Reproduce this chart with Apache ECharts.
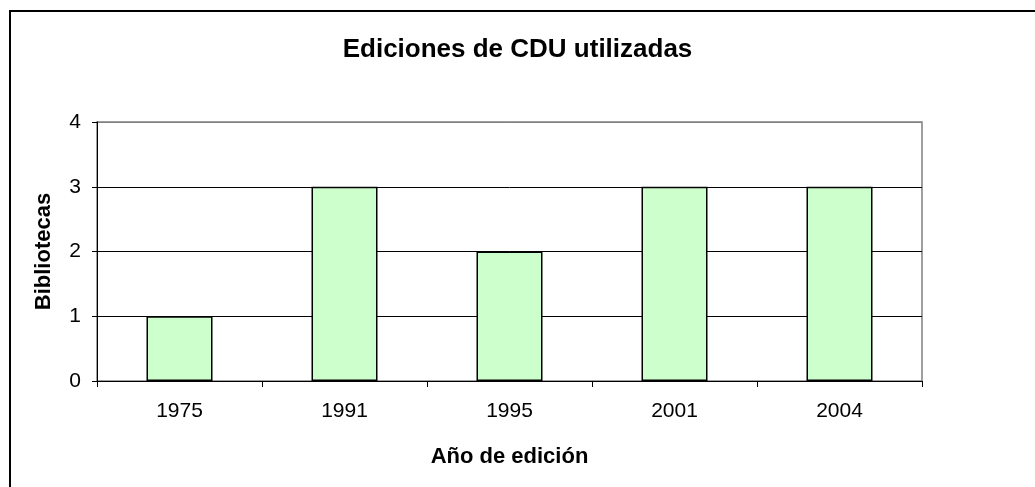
<!DOCTYPE html>
<html>
<head>
<meta charset="utf-8">
<script src="https://cdn.jsdelivr.net/npm/echarts@6/dist/echarts.min.js"></script>
<style>
  html, body { margin: 0; padding: 0; background: #fff; }
  #chart { width: 1035px; height: 487px; }
</style>
</head>
<body>
<div id="chart"></div>
<script>
// datos
var anios = ['1975', '1991', '1995', '2001', '2004'];
var bibliotecas = [1, 3, 2, 3, 3];

var myChart = echarts.init(document.getElementById('chart'));
var option = {
    animation: false,
    backgroundColor: '#fff',
    textStyle: { fontFamily: 'Liberation Sans, Arial, sans-serif' },
    graphic: [{
        type: 'rect',
        shape: { x: 10, y: 11, width: 1200, height: 700 },
        style: { fill: 'none', stroke: '#000', lineWidth: 2 },
        silent: true
    }],
    title: {
        text: 'Ediciones de CDU utilizadas',
        left: 'center',
        top: 32,
        textStyle: { fontSize: 26, fontWeight: 'bold', color: '#000' }
    },
    grid: {
        left: 97, right: 113, top: 122, bottom: 106,
        show: true, borderColor: '#808080', borderWidth: 1.5
    },
    xAxis: {
        type: 'category',
        data: anios,
        name: 'Año de edición',
        nameLocation: 'middle',
        nameGap: 65,
        nameTextStyle: { fontSize: 22, fontWeight: 'bold', color: '#000' },
        axisLine: { lineStyle: { color: '#000', width: 1 } },
        axisTick: { show: true, length: 6, alignWithLabel: false, lineStyle: { color: '#000' } },
        axisLabel: { fontSize: 21, color: '#000', margin: 20 }
    },
    yAxis: {
        type: 'value',
        min: 0, max: 4, interval: 1,
        name: 'Bibliotecas',
        nameLocation: 'middle',
        nameGap: 42,
        nameTextStyle: { fontSize: 22, fontWeight: 'bold', color: '#000' },
        axisLine: { show: true, lineStyle: { color: '#000', width: 1 } },
        axisTick: { show: true, length: 5, lineStyle: { color: '#000' } },
        axisLabel: { fontSize: 21, color: '#000', margin: 16 },
        splitLine: { lineStyle: { color: ['#000', '#000', '#000', '#000', '#808080'], width: 1 } }
    },
    series: [{
        type: 'bar',
        data: bibliotecas,
        barWidth: 66,
        itemStyle: { color: '#CCFFCC', borderColor: '#000', borderWidth: 1.5 }
    }]
};
myChart.setOption(option);
</script>
</body>
</html>
